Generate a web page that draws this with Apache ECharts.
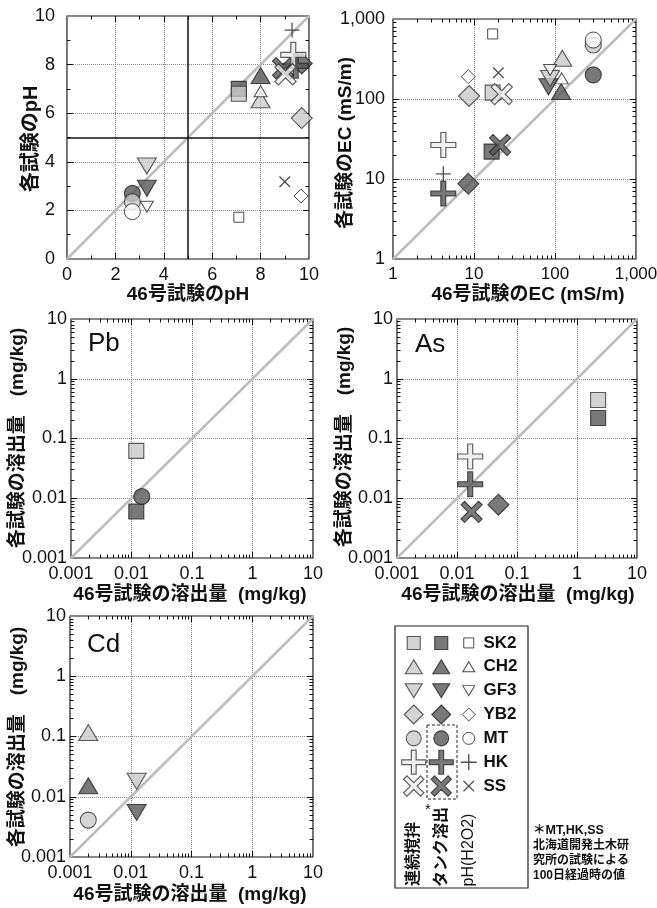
<!DOCTYPE html>
<html><head><meta charset="utf-8">
<script src="https://cdn.jsdelivr.net/npm/echarts@6/dist/echarts.min.js"></script>
<style>html,body{margin:0;padding:0;background:#fff}#c{width:657px;height:908px}</style>
</head><body><div id="c"></div>
<script>
// ---- data ----
const samples = ['SK2','CH2','GF3','YB2','MT','HK','SS'];
const methods = ['連続撹拌','タンク溶出','pH(H2O2)'];

// pH panel: [46号試験のpH, 各試験のpH]
const phStir = [[7.1,6.8],[8.0,6.55],[3.3,3.83],[9.7,5.8],[2.7,2.36],[9.35,8.4],[9.03,7.6]];
const phTank = [[7.1,7.0],[8.0,7.55],[3.3,2.91],[9.7,8.05],[2.7,2.7],[9.45,7.95],[8.93,7.85]];
const phH2o2 = [[7.1,1.72],[8.0,6.9],[3.3,2.15],[9.67,2.59],[2.7,1.95],[9.3,9.42],[9.0,3.18]];

// EC panel (mS/m)
const ecStir = [[17,120],[123,323],[87,181],[8.7,109],[297,473],[4.18,26.6],[22,115]];
const ecTank = [[16.5,22],[119,124],[83,142],[8.5,8.7],[297,200],[4.18,6.6],[21,26.6]];
const ecH2o2 = [[17,650],[121,181],[87,230],[8.5,190],[297,546],[4.18,11.6],[20,213]];

// leaching (mg/kg)
const pbStir = [[0.012,0.062],null,null,null,null,null,null];
const pbTank = [[0.012,0.006],null,null,null,[0.0148,0.0107],null,null];
const asStir = [[2.25,0.44],null,null,null,null,[0.0166,0.05],null];
const asTank = [[2.25,0.22],null,null,[0.049,0.0078],null,[0.0166,0.0172],[0.0175,0.0059]];
const cdStir = [null,[0.002,0.116],[0.0125,0.018],null,[0.002,0.0041],null,null];
const cdTank = [null,[0.002,0.0152],[0.0125,0.0055],null,null,null,null];

const phRange = [0,10];
const ecRange = [1,1000];
const concRange = [0.001,10];

// ---- styling helpers ----
const LAT = '"Liberation Sans", Arial, "Noto Sans CJK JP", sans-serif';
const PLUS_THICK = 'path://M4,0H6V4H10V6H6V10H4V6H0V4H4Z';
const PLUS_THIN = 'path://M6.4,0H7.6V6.4H14V7.6H7.6V14H6.4V7.6H0V6.4H6.4Z';
const shapes = ['rect','triangle','triangle','diamond','circle','plus','cross'];
const rots = [0,0,180,0,0,0,45];

function symbolFor(si, mi, legend){
  const filled = mi < 2;
  let size;
  if (filled) size = legend ? [13,[17,14],[17,14],19,15,24,24][si] : [15,[19,16],[19,16],21,16,25,25][si];
  else size = legend ? [10,[12,10],[12,10],13,12,16,15][si] : [10,[13,11],[13,11],14,16,15,15][si];
  const sh = shapes[si];
  let symbol;
  if (sh === 'plus' || sh === 'cross') symbol = filled ? PLUS_THICK : PLUS_THIN;
  else symbol = sh;
  let itemStyle;
  if (mi === 0) itemStyle = (sh==='plus'||sh==='cross') ? {color:'#ececec', borderColor:'#3a3a3a', borderWidth:1.2}
                                                        : {color:'#c9c9c9', borderColor:'#333', borderWidth:1.1};
  else if (mi === 1) itemStyle = {color:'#575757', borderColor:'#222', borderWidth:1.1};
  else itemStyle = (sh==='plus'||sh==='cross') ? {color:'#222', borderWidth:0}
                                              : {color:'#fff', borderColor:'#222', borderWidth:1};
  return {symbol, symbolSize:size, symbolRotate:rots[si], itemStyle};
}

const fmtNum = v => { const r = Number(Number(v).toPrecision(6)); return r >= 1000 ? r.toLocaleString('en-US') : String(r); };
const rangeOf = k => k==='lin' ? phRange : k==='ec' ? ecRange : concRange;

const gridDefs = [
  {left:67, top:16, width:242, height:243},
  {left:393, top:19, width:243, height:240},
  {left:71, top:319, width:242, height:239},
  {left:397, top:319, width:240, height:239},
  {left:70, top:616, width:243, height:241},
];
const grid = gridDefs.map(g => Object.assign({show:true, borderColor:'#111', borderWidth:1.2, backgroundColor:'#fff', containLabel:false, outerBoundsMode:'none'}, g));
grid.push({left:400, top:631, width:82.5, height:167, show:false, containLabel:false, outerBoundsMode:'none'});

const splitStyle = {show:true, lineStyle:{color:'#8a8a8a', type:'dotted', width:1}};
function labelStyle(margin, size){ return {fontFamily:LAT, fontSize:size||18, color:'#111', margin, showMinLabel:true, showMaxLabel:true, hideOverlap:false, formatter: fmtNum}; }

function axisFor(gi, kind, dim){
  const base = {gridIndex:gi, axisLine:{show:false, onZero:false}, axisTick:{show:false}, splitLine:splitStyle};
  const margin = dim==='x' ? 7 : (gi===0 ? 12 : gi===1 ? 8 : 4);
  const size = (gi===1 && dim==='x') ? 17 : 18;
  if (kind === 'lin') return Object.assign(base, {type:'value', min:phRange[0], max:phRange[1], interval:2, axisLabel:labelStyle(margin,size)});
  const r = rangeOf(kind);
  return Object.assign(base, {type:'log', logBase:10, min:r[0], max:r[1], splitNumber: Math.round(Math.log10(r[1]/r[0])), axisLabel:labelStyle(margin,size)});
}
const kinds = ['lin','ec','conc','conc','conc'];
const xAxis = kinds.map((k,i)=>axisFor(i,k,'x'));
const yAxis = kinds.map((k,i)=>axisFor(i,k,'y'));
xAxis.push({type:'category', gridIndex:5, data:methods, show:false});
yAxis.push({type:'category', gridIndex:5, data:samples, inverse:true, position:'right',
  axisLine:{show:false, onZero:false}, axisTick:{show:false}, splitLine:{show:false},
  axisLabel:{fontFamily:LAT, fontSize:17, fontWeight:'bold', color:'#111', margin:1, align:'left'}});

// ---- tick-only axes: inward major/minor ticks on all four sides (log panels in log10 units) ----
function tickSets(kind){
  if (kind === 'lin') return {major:[2,4,6,8], minor:[1,3,5,7,9]};
  const r = rangeOf(kind);
  const e0 = Math.round(Math.log10(r[0])), e1 = Math.round(Math.log10(r[1]));
  const major = [], minor = [];
  for (let e=e0; e<e1; e++){
    if (e > e0) major.push(e);
    for (let k=2; k<=9; k++) minor.push(e + Math.log10(k));
  }
  return {major, minor};
}
function tickAxis(gi, kind, position, values, len){
  const r = rangeOf(kind);
  const lin = kind === 'lin';
  return {type:'value', gridIndex:gi, position, min: lin ? r[0] : Math.log10(r[0]), max: lin ? r[1] : Math.log10(r[1]),
    silent:true, axisLine:{show:false, onZero:false}, axisLabel:{show:false}, splitLine:{show:false}, splitArea:{show:false},
    axisTick:{show:true, inside:true, length:len, customValues:values, lineStyle:{color:'#111', width:1}}};
}
kinds.forEach((k,gi)=>{
  const t = tickSets(k);
  xAxis.push(tickAxis(gi,k,'bottom',t.major,6), tickAxis(gi,k,'bottom',t.minor,3.5),
             tickAxis(gi,k,'top',t.major,6), tickAxis(gi,k,'top',t.minor,3.5));
  yAxis.push(tickAxis(gi,k,'left',t.major,6), tickAxis(gi,k,'left',t.minor,3.5),
             tickAxis(gi,k,'right',t.major,6), tickAxis(gi,k,'right',t.minor,3.5));
});

// ---- series ----
const series = [];
kinds.forEach((k,gi)=>{
  const r = rangeOf(k);
  const s = {type:'line', xAxisIndex:gi, yAxisIndex:gi, data:[[r[0],r[0]],[r[1],r[1]]], symbol:'none', silent:true, z:1,
    lineStyle:{color:'#bdbdbd', width:2.5}, animation:false};
  if (gi===0) s.markLine = {silent:true, symbol:'none', label:{show:false}, animation:false,
    lineStyle:{color:'#111', width:1.5, type:'solid'}, data:[{xAxis:5},{yAxis:5}]};
  series.push(s);
});
const panelData = [
  [phStir, phTank, phH2o2],
  [ecStir, ecTank, ecH2o2],
  [pbStir, pbTank, null],
  [asStir, asTank, null],
  [cdStir, cdTank, null],
];
panelData.forEach((sets,gi)=>{
  [1,0,2].forEach((mi,order)=>{
    const arr = sets[mi];
    if (!arr) return;
    const data = [];
    arr.forEach((p,si)=>{ if (p) data.push(Object.assign({value:p}, symbolFor(si,mi,false))); });
    series.push({type:'scatter', name:methods[mi], xAxisIndex:gi, yAxisIndex:gi, data, z:3+order, silent:true, animation:false});
  });
});
// legend symbols in the legend grid
[0,1,2].forEach(mi=>{
  const data = samples.map((s,si)=>Object.assign({value:[methods[mi], s]}, symbolFor(si,mi,true)));
  series.push({type:'scatter', xAxisIndex:5, yAxisIndex:5, data, z:5, silent:true, animation:false});
});

// ---- text graphics ----
function txt(x,y,text,size,opts){
  opts = opts||{};
  return {type:'text', x, y, rotation: opts.rot||0, silent:true, z:50,
    style:{text, fontSize:size, fontWeight:opts.weight||'bold', fontFamily:opts.family||LAT, fill:'#111',
      align:opts.align||'center', verticalAlign:'middle', textAlign:opts.align||'center', textVerticalAlign:'middle'}};
}
const R = Math.PI/2;
const graphic = [
  txt(188,295,'46号試験のpH',19),
  txt(528,295,'46号試験のEC (mS/m)',19),
  txt(190,595,'46号試験の溶出量  (mg/kg)',19),
  txt(518,595,'46号試験の溶出量  (mg/kg)',19),
  txt(190,895,'46号試験の溶出量  (mg/kg)',19),
  txt(31,139,'各試験のpH',20,{rot:R}),
  txt(346,143,'各試験のEC (mS/m)',19,{rot:R}),
  txt(18,438,'各試験の溶出量　(mg/kg)',19,{rot:R}),
  txt(345,437,'各試験の溶出量　(mg/kg)',19,{rot:R}),
  txt(18,737,'各試験の溶出量　(mg/kg)',19,{rot:R}),
  txt(88,344,'Pb',26,{align:'left',weight:'normal'}),
  txt(415,345,'As',26,{align:'left',weight:'normal'}),
  txt(87,645,'Cd',26,{align:'left',weight:'normal'}),
  {type:'rect', shape:{x:395,y:626,width:133,height:262}, style:{fill:'none',stroke:'#222',lineWidth:1.2}, silent:true, z:40},
  {type:'rect', shape:{x:427,y:725,width:30,height:74}, style:{fill:'none',stroke:'#222',lineWidth:1,lineDash:[3,2]}, silent:true, z:40},
  txt(414,854,'連続撹拌',16,{rot:R}),
  txt(442,847,'タンク溶出',16,{rot:R}),
  txt(428,810,'*',15,{weight:'normal'}),
  txt(469,850,'pH(H2O2)',16,{rot:R,weight:'normal'}),
  txt(533,831,'＊MT,HK,SS',12.5,{align:'left'}),
  txt(533,846,'北海道開発土木研',12,{align:'left'}),
  txt(533,861,'究所の試験による',12,{align:'left'}),
  txt(533,876,'100日経過時の値',12,{align:'left'}),
];

const chart = echarts.init(document.getElementById('c'), null, {renderer:'canvas'});
chart.setOption({animation:false, backgroundColor:'#fff', grid, xAxis, yAxis, series, graphic});
</script></body></html>
